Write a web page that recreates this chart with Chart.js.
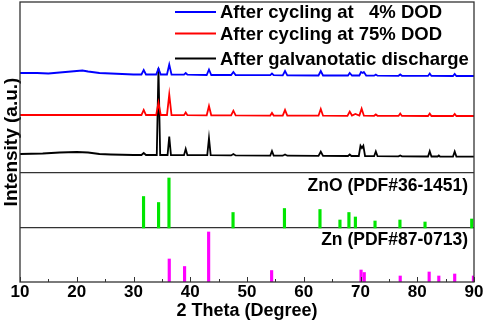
<!DOCTYPE html>
<html>
<head>
<meta charset="utf-8">
<script src="https://cdn.jsdelivr.net/npm/chart.js@4.4.1/dist/chart.umd.min.js"></script>
<style>
html, body { margin: 0; padding: 0; background: #fff; }
#wrap { width: 484px; height: 328px; }
</style>
</head>
<body>
<div id="wrap"><canvas id="xrd"></canvas></div>
<script>
// 圖例文字
var seriesNames = ['After cycling at   4% DOD', 'After cycling at 75% DOD', 'After galvanotatic discharge'];
var seriesColors = ['#0000ff', '#ff0000', '#000000'];

// XRD 曲線 [2θ, 強度(已含位移)]
var dod4 = [
    [10,209],[13,209],[15,208.5],[17,209.5],[19,210.5],[20,211],[21,211.5],[22,210.5],[24,209],[26,208.5],[28,208],[30,207.5],
    [31.4,207.5],[31.8,212],[32.2,207.5],
    [34.0,207.5],[34.4,213.5],[34.8,207.5],
    [35.9,207.5],[36.3,217.5],[36.7,207.5],
    [38.9,207.3],[39.2,209],[39.5,207.3],
    [42.9,207],[43.3,212.5],[43.7,207],
    [47.2,207],[47.6,210],[48.0,207],
    [54.1,206.8],[54.4,208.5],[54.7,206.8],
    [56.3,206.7],[56.7,211],[57.1,206.7],
    [62.6,206.5],[63.0,211],[63.4,206.5],
    [67.8,206.5],[68.1,209],[68.5,206.5],
    [69.8,206.5],[70.1,210],[70.4,209],[70.6,210],[71.0,206.5],
    [72.4,206.3],[72.7,207.5],[73.0,206.3],
    [76.7,206.2],[77.0,207.5],[77.3,206.2],
    [81.9,206.1],[82.2,208.5],[82.5,206.1],
    [86.3,206],[86.6,208],[86.9,206],
    [90,206]
];
var dod75 = [
    [10,167],[20,167],[25,167],[30,167],
    [31.4,167],[31.8,172],[32.2,167],
    [34.0,167],[34.4,179.3],[34.8,167],
    [35.9,167],[36.3,187.5],[36.7,167],
    [38.9,166.8],[39.2,169.5],[39.5,166.8],
    [42.9,166.7],[43.3,176],[43.7,166.7],
    [47.2,166.6],[47.6,171.3],[48.0,166.6],
    [54.1,166.4],[54.4,169],[54.7,166.4],
    [56.3,166.4],[56.7,172],[57.1,166.4],
    [62.6,166.3],[63.0,173],[63.4,166.3],
    [67.7,166.2],[68.1,170.5],[68.5,166.5],[69.1,168],[69.8,166.5],[70.2,173.3],[70.6,166.3],
    [72.4,166.2],[72.7,167.5],[73.0,166.2],
    [76.7,166.1],[77.0,168.5],[77.3,166.1],
    [81.9,166],[82.2,168.5],[82.5,166],
    [86.3,166],[86.6,168],[86.9,166],
    [90,166]
];
var galvano = [
    [10,128],[14,128.5],[17,129.5],[20,130],[22,129.5],[24,128],[26,127.5],[30,127],
    [31.4,127],[31.8,129],[32.2,127],
    [34.1,127],[34.4,213.7],[34.7,127],
    [36.0,127],[36.3,145.3],[36.6,127],
    [38.9,126.8],[39.2,133],[39.5,126.8],
    [43.0,126.8],[43.3,143.7],[43.6,126.8],
    [47.2,126.6],[47.6,128],[48.0,126.6],
    [54.1,126.4],[54.4,131],[54.7,126.4],
    [56.3,126.3],[56.7,127.5],[57.1,126.3],
    [62.6,126.1],[63.0,130.3],[63.4,126.1],
    [67.8,126],[68.1,127.5],[68.4,126],
    [69.7,126],[70.0,136.3],[70.25,134],[70.5,136.3],[70.8,126],
    [72.4,125.8],[72.7,130.5],[73.0,125.8],
    [76.7,125.6],[77.0,126.5],[77.3,125.6],
    [81.9,125.5],[82.2,130.8],[82.5,125.5],
    [83.6,125.5],[83.8,126.5],[84.0,125.5],
    [86.3,125.4],[86.6,130.5],[86.9,125.4],
    [90,125.3]
];

// 標準卡 (相對強度 %)
var znoTheta = [31.77, 34.42, 36.25, 47.54, 56.6, 62.86, 66.38, 67.96, 69.1, 72.56, 76.95, 81.37, 89.6];
var znoInt   = [63, 51, 100, 31, 39, 37, 16, 31, 22, 14, 16, 12, 18];
var znTheta  = [36.3, 39.0, 43.24, 54.34, 70.1, 70.66, 77.0, 82.1, 83.8, 86.6, 89.9];
var znInt    = [46, 31, 100, 23, 24, 19, 12, 20, 12, 16, 12];

// x 軸刻度
var xTicks = [10, 20, 30, 40, 50, 60, 70, 80, 90];

var FONT = "'Liberation Sans', Arial, sans-serif";
var znBase = 0, znoBase = 54, patBase = 109, stickScale = 0.5;

function toXY(arr) {
    return arr.map(function (p) { return { x: p[0], y: p[1] }; });
}
function sticks(theta, inten, base) {
    return theta.map(function (t, i) { return { x: t, y: [base, base + inten[i] * stickScale] }; });
}

// 外框、內刻度、圖例、標籤
var decor = {
    id: 'decor',
    afterDraw: function (chart) {
        var ctx = chart.ctx, a = chart.chartArea, xs = chart.scales.x;
        ctx.save();
        ctx.strokeStyle = '#333';
        ctx.lineWidth = 1.3;
        ctx.strokeRect(a.left, a.top, a.right - a.left, a.bottom - a.top);
        ctx.lineWidth = 1;
        for (var v = 10; v <= 90; v += 5) {
            var px = Math.round(xs.getPixelForValue(v)) + 0.5;
            var len = v % 10 === 0 ? 5 : 3;
            ctx.beginPath();
            ctx.moveTo(px, a.bottom);
            ctx.lineTo(px, a.bottom - len);
            ctx.stroke();
        }
        // 圖例
        var rows = [12, 33.5, 58.5];
        ctx.font = 'bold 18.5px ' + FONT;
        ctx.textBaseline = 'middle';
        ctx.textAlign = 'left';
        for (var i = 0; i < seriesNames.length; i++) {
            ctx.strokeStyle = seriesColors[i];
            ctx.lineWidth = 1.8;
            ctx.beginPath();
            ctx.moveTo(175, rows[i]);
            ctx.lineTo(216, rows[i]);
            ctx.stroke();
            ctx.fillStyle = '#000';
            ctx.fillText(seriesNames[i], 220, rows[i] + 1);
        }
        // 標準卡名稱
        ctx.font = 'bold 17.5px ' + FONT;
        ctx.textAlign = 'right';
        ctx.fillText('ZnO (PDF#36-1451)', a.right - 6, 186);
        ctx.fillText('Zn (PDF#87-0713)', a.right - 6, 240);
        ctx.restore();
    }
};

new Chart(document.getElementById('xrd'), {
    type: 'bar',
    data: {
        datasets: [
            { type: 'line', label: seriesNames[0], data: toXY(dod4), borderColor: seriesColors[0], borderWidth: 1.8, pointRadius: 0, tension: 0 },
            { type: 'line', label: seriesNames[1], data: toXY(dod75), borderColor: seriesColors[1], borderWidth: 1.8, pointRadius: 0, tension: 0 },
            { type: 'line', label: seriesNames[2], data: toXY(galvano), borderColor: seriesColors[2], borderWidth: 1.8, pointRadius: 0, tension: 0 },
            { label: 'ZnO', data: sticks(znoTheta, znoInt, znoBase), backgroundColor: '#00e600', barThickness: 2.5, grouped: false },
            { label: 'Zn', data: sticks(znTheta, znInt, znBase), backgroundColor: '#ff00ff', barThickness: 2.5, grouped: false }
        ]
    },
    options: {
        responsive: true,
        maintainAspectRatio: false,
        animation: false,
        layout: { padding: { top: 2, right: 10 } },
        plugins: { legend: { display: false }, tooltip: { enabled: false } },
        scales: {
            x: {
                type: 'linear',
                min: 10,
                max: 90,
                offset: false,
                afterBuildTicks: function (s) { s.ticks = xTicks.map(function (v) { return { value: v }; }); },
                afterFit: function (s) { s.height = 46; },
                grid: { display: false, drawTicks: false },
                border: { display: false },
                ticks: { color: '#000', font: { family: FONT, size: 17, weight: 'bold' }, padding: 0, maxRotation: 0 },
                title: { display: true, text: '2 Theta (Degree)', color: '#000', font: { family: FONT, size: 18, weight: 'bold' }, padding: { top: 0, bottom: 6 } }
            },
            y: {
                min: 0,
                max: 280,
                afterBuildTicks: function (s) { s.ticks = [{ value: znoBase }, { value: patBase }]; },
                afterFit: function (s) { s.width = 20; },
                grid: { color: '#333', lineWidth: 1.2, drawTicks: false },
                border: { display: false },
                ticks: { display: false },
                title: { display: true, text: 'Intensity (a.u.)', color: '#000', font: { family: FONT, size: 19, weight: 'bold' }, padding: 0 }
            }
        }
    },
    plugins: [decor]
});
</script>
</body>
</html>
